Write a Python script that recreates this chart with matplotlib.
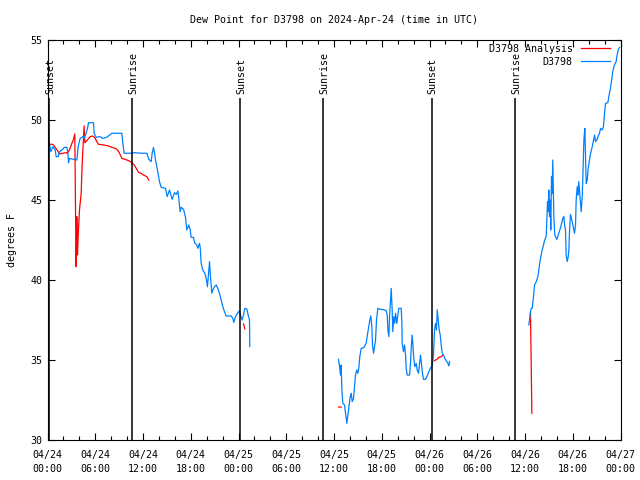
import matplotlib
matplotlib.use("Agg")
import matplotlib.pyplot as plt
import numpy as np

# hours after 2024-04-24 00:00 UTC; nan marks a gap in the record
obs_hours = [0.0, 0.25, 0.42, 0.67, 0.96, 1.09, 1.34, 1.5, 1.93, 2.1, 2.43, 2.56, 2.64, 2.76,
             3.35, 3.69, 3.85, 4.1, 4.44, 4.6, 4.86, 5.07, 5.15, 5.78, 5.86, 6.1, 6.6, 6.95,
             7.45, 8.08, 9.34, 9.47, 9.63, 10.47, 10.8, 11.85, 12.48, 12.73, 13.03, 13.15,
             13.32, 13.45, 13.57, 13.86, 14.07, 14.29, 14.83, 15.04, 15.33, 15.66, 15.96,
             16.17, 16.38, 16.5, 16.67, 16.8, 17.09, 17.34, 17.5, 17.76, 17.93, 18.05, 18.35,
             18.47, 18.76, 18.89, 19.1, 19.2, 19.31, 19.51, 19.77, 19.94, 20.1, 20.27, 20.36,
             20.48, 20.65, 20.78, 20.98, 21.2, 21.4, 21.61, 21.82, 22.03, 22.24, 22.45, 23.08,
             23.29, 23.41, 23.62, 23.92, 24.13, 24.25, 24.46, 24.63, 24.8, 25.05, 25.26, 25.38,
             25.42,
             np.nan,
             36.57, 36.69, 36.82, 36.9, 36.99, 37.11, 37.32, 37.45, 37.61, 37.74, 37.86, 38.04,
             38.16, 38.29, 38.45, 38.58, 38.7, 38.87, 38.99, 39.11, 39.24, 39.42, 39.75, 39.92,
             40.04, 40.13, 40.34, 40.5, 40.63, 40.75, 40.84, 40.97, 41.09, 41.22, 41.34, 41.51,
             41.81, 42.35, 42.56, 42.69, 42.77, 42.9, 42.98, 43.1, 43.19, 43.31, 43.39, 43.52,
             43.64, 43.73, 43.9, 44.02, 44.14, 44.44, 44.52, 44.57, 44.73, 44.86, 44.99, 45.07,
             45.2, 45.49, 45.61, 45.74, 45.82, 45.9, 46.03, 46.15, 46.33, 46.45, 46.62, 46.75,
             46.87, 47.0, 47.12, 47.25, 47.5, 47.67, 47.92, 48.17, 48.34, 48.5, 48.63, 48.76,
             48.88, 48.97, 49.1, 49.22, 49.35, 49.47, 49.6, 49.76, 49.93, 50.1, 50.31, 50.43,
             50.52,
             np.nan,
             60.48, 60.57, 60.66, 60.78, 60.9, 61.07, 61.2, 61.41, 61.62, 61.74, 61.91, 62.04,
             62.16, 62.33, 62.45, 62.66, 62.74, 62.83, 62.91, 62.99, 63.08, 63.16, 63.24, 63.33,
             63.41, 63.49, 63.62, 63.74, 64.0, 64.25, 64.5, 64.75, 64.88, 64.97, 65.09, 65.17,
             65.3, 65.43, 65.51, 65.59, 65.72, 65.93, 66.1, 66.22, 66.35, 66.43, 66.56, 66.64,
             66.76, 66.94, 67.06, 67.19, 67.27, 67.4, 67.52, 67.6, 67.69, 67.82, 67.94, 68.11,
             68.24, 68.45, 68.61, 68.74, 68.86, 69.03, 69.16, 69.36, 69.49, 69.7, 69.86, 69.99,
             70.12, 70.41, 70.53, 70.7, 70.86, 71.03, 71.24, 71.45, 71.57, 71.74, 71.87]
obs_dewpt = [49.27, 48.54, 48.02, 48.33, 48.13, 47.71, 47.71, 48.02, 48.17, 48.29, 48.29, 47.96,
             47.33, 47.6, 47.54, 47.5, 48.33, 48.85, 48.96, 48.85, 49.17, 49.58, 49.83, 49.83,
             49.17, 48.92, 48.96, 48.85, 48.92, 49.17, 49.17, 48.54, 47.92, 47.92, 47.96, 47.92,
             47.92, 47.54, 47.4, 47.92, 48.29, 47.92, 47.5, 46.77, 46.15, 45.79, 45.73, 45.21,
             45.63, 45.04, 45.46, 45.35, 45.56, 45.1, 44.27, 44.54, 44.42, 43.92, 43.13, 43.44,
             43.13, 42.67, 42.67, 42.33, 42.19, 41.98, 42.29, 41.98, 41.04, 40.63, 40.42, 40.1,
             39.58, 40.63, 41.15, 40.21, 39.17, 39.38, 39.58, 39.69, 39.48, 39.17, 38.75, 38.33,
             38.02, 37.75, 37.75, 37.6, 37.35, 37.71, 37.96, 38.08, 37.81, 37.5, 37.81, 38.23,
             38.19, 37.71, 37.54, 35.83,
             np.nan,
             35.04, 34.63, 34.06, 34.69, 33.13, 32.29, 32.19, 31.67, 31.04, 31.56, 32.08, 32.71,
             32.92, 32.4, 32.6, 33.33, 34.06, 34.38, 34.17, 34.48, 35.21, 35.73, 35.77, 35.94,
             36.04, 36.35, 36.98, 37.5, 37.75, 37.08, 35.94, 35.42, 35.83, 36.25, 37.5, 38.23,
             38.17, 38.13, 38.08, 37.8, 36.88, 36.46, 37.71, 38.75, 39.48, 38.13, 36.77, 37.71,
             37.29, 37.92, 37.29, 37.81, 38.23, 38.23, 37.5, 36.04, 35.52, 35.94, 35.31, 34.48,
             34.06, 34.06, 34.79, 36.04, 36.56, 36.04, 35.1, 34.58, 34.79, 34.38, 34.17, 34.79,
             35.31, 34.69, 34.17, 33.79, 33.79, 33.96, 34.27, 34.54, 34.63, 35.31, 36.88, 37.29,
             36.88, 38.13, 37.5, 36.88, 36.56, 35.94, 35.42, 35.31, 35.1, 34.96, 34.79, 34.63,
             34.9,
             np.nan,
             37.19, 37.5, 37.92, 38.23, 38.23, 38.96, 39.69, 39.9, 40.21, 40.63, 41.25, 41.56,
             41.88, 42.19, 42.46, 42.75, 43.65, 44.9, 44.27, 45.63, 43.96, 45.0, 43.13, 46.46,
             45.42, 47.5, 44.06, 42.81, 42.54, 42.92, 43.33, 43.85, 43.96, 43.44, 43.13, 41.56,
             41.15, 41.46, 41.88, 43.02, 44.1, 43.65, 43.23, 42.92, 43.44, 45.0, 45.83, 45.31,
             46.15, 45.0, 44.27, 45.21, 46.46, 48.75, 49.48, 47.92, 46.04, 46.25, 46.98, 47.5,
             47.92, 48.33, 48.75, 49.06, 48.65, 48.75, 48.96, 49.17, 49.48, 49.38, 49.58, 50.42,
             51.04, 51.08, 51.46, 51.88, 52.4, 53.02, 53.44, 53.65, 54.06, 54.42, 54.54]

ana_hours = [0.34, 0.67, 0.96, 1.26, 1.5, 1.93, 2.35, 2.5, 2.76, 3.06, 3.27, 3.43, 3.52, 3.6,
             3.68, 3.77, 3.85, 4.02, 4.23, 4.36, 4.48, 4.6, 4.69, 4.94, 5.36, 5.7, 5.99, 6.2,
             6.4, 7.04, 7.67, 8.08, 8.5, 8.8, 9.05, 9.34, 9.76, 10.18, 10.6, 10.89, 11.22,
             11.43, 11.73, 12.06, 12.48, 12.73,
             np.nan, 24.63, 24.8,
             np.nan, 36.57, 36.9,
             np.nan, 48.63, 48.92, 49.17, 49.47, 49.68,
             np.nan, 60.69, 60.78, 60.86]
ana_dewpt = [48.48, 48.48, 48.29, 48.08, 47.88, 47.92, 47.96, 47.92, 48.13, 48.54, 48.79, 49.13,
             44.48, 40.83, 43.96, 41.56, 42.71, 44.38, 45.42, 47.29, 48.44, 49.63, 48.58, 48.71,
             48.96, 49.0, 48.85, 48.65, 48.48, 48.44, 48.38, 48.29, 48.23, 48.13, 47.92, 47.6,
             47.54, 47.46, 47.35, 47.19, 46.92, 46.73, 46.67, 46.56, 46.46, 46.25,
             np.nan, 37.25, 36.94,
             np.nan, 32.06, 32.06,
             np.nan, 34.96, 35.04, 35.17, 35.21, 35.29,
             np.nan, 37.92, 34.79, 31.67]

sun_hours = [0.15, 10.6, 24.17, 34.68, 48.27, 58.75]
sun_labels = ["Sunset", "Sunrise", "Sunset", "Sunrise", "Sunset", "Sunrise"]

tick_hours = np.arange(0, 73, 6)
tick_labels = ["04/24\n00:00", "04/24\n06:00", "04/24\n12:00", "04/24\n18:00",
               "04/25\n00:00", "04/25\n06:00", "04/25\n12:00", "04/25\n18:00",
               "04/26\n00:00", "04/26\n06:00", "04/26\n12:00", "04/26\n18:00",
               "04/27\n00:00"]

plt.rcParams["font.family"] = "DejaVu Sans Mono"
plt.rcParams["font.size"] = 7.2

fig = plt.figure(figsize=(6.4, 4.8), dpi=100)
ax = fig.add_axes([47.5 / 640, 40 / 480, 573 / 640, 400 / 480])

ax.plot(ana_hours, ana_dewpt, color="#ff0000", lw=0.9, label="D3798 Analysis")
ax.plot(obs_hours, obs_dewpt, color="#0080ff", lw=0.9, label="D3798")

for h, lab in zip(sun_hours, sun_labels):
    ax.vlines(h, 30, 51.4, color="black", lw=1.1)
    ax.text(h + 0.15, 51.6, lab, rotation=90, ha="center", va="bottom")

ax.set_xlim(0, 72)
ax.set_ylim(30, 55)
ax.set_xticks(tick_hours)
ax.set_xticklabels(tick_labels, linespacing=1.55)
ax.set_xticks(np.arange(0, 73, 2), minor=True)
ax.set_yticks(np.arange(30, 56, 5))
ax.tick_params(which="both", direction="in", top=True, right=True, width=0.8)
ax.tick_params(which="major", length=5)
ax.tick_params(which="minor", length=3)
ax.tick_params(axis="x", pad=7)

ax.set_title("Dew Point for D3798 on 2024-Apr-24 (time in UTC)", fontsize=7.2, pad=12)
ax.set_ylabel("degrees F", labelpad=10)

leg = ax.legend(loc="upper right", bbox_to_anchor=(0.9843, 0.995), frameon=False,
                markerfirst=False, handlelength=2.9, handletextpad=0.8, labelspacing=0.3,
                borderaxespad=0, borderpad=0.2)

fig.savefig("out.png", dpi=100)
